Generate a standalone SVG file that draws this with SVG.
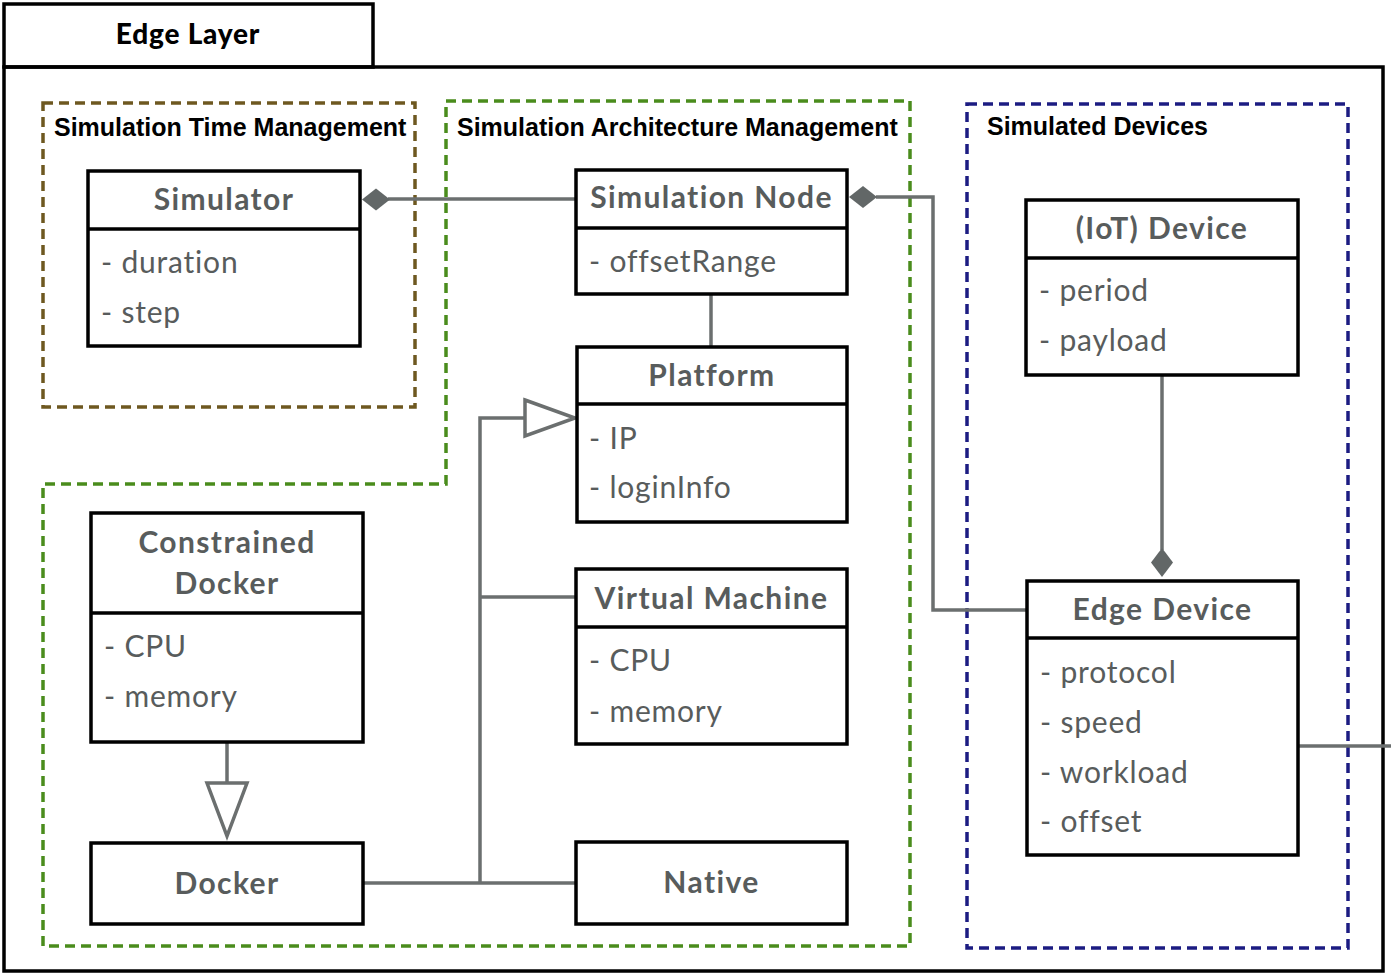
<svg xmlns="http://www.w3.org/2000/svg" width="1391" height="978" viewBox="0 0 1391 978">
<style>
.frame{fill:none;stroke:#000;stroke-width:3.5}
.box{fill:#fff;stroke:#000;stroke-width:3.5}
.div{stroke:#000;stroke-width:3.5}
.title{font-family:Lato,"Open Sans","Liberation Sans",sans-serif;font-weight:bold;font-size:30px;letter-spacing:1.4px;fill:#585c5c;text-anchor:middle}
.attr{font-family:Lato,"Open Sans","Liberation Sans",sans-serif;font-size:30px;letter-spacing:0.8px;fill:#585c5c}
.glabel{font-family:"Liberation Sans",Arial,sans-serif;font-weight:bold;font-size:25px;fill:#000}
.conn{fill:none;stroke:#6b6f6f;stroke-width:3.5}
.dia{fill:#626767;stroke:none}
.tri{fill:#fff;stroke:#6b6f6f;stroke-width:3.5}
</style>
<rect width="1391" height="978" fill="#fff"/>
<g id="edge-layer">
<rect class="frame" x="4" y="67" width="1379" height="904"/>
<rect class="frame" x="4" y="4" width="369" height="63"/>
<text x="188" y="44" font-family="Lato,'Liberation Sans',sans-serif" font-weight="900" font-size="28" letter-spacing="0.8" fill="#000" text-anchor="middle">Edge Layer</text>
</g>
<g id="group-time">
<rect x="43" y="103" width="372" height="304" fill="none" stroke="#6e5820" stroke-width="3.5" stroke-dasharray="10,6"/>
<text class="glabel" x="54" y="136">Simulation Time Management</text>
</g>
<g id="group-arch">
<path d="M446,101 L910,101 L910,946 L43,946 L43,484 L446,484 Z" fill="none" stroke="#4a8c1c" stroke-width="3.5" stroke-dasharray="10,6"/>
<text class="glabel" x="457" y="136">Simulation Architecture Management</text>
</g>
<g id="group-devices">
<rect x="967" y="104" width="381" height="844" fill="none" stroke="#1c1c82" stroke-width="3.5" stroke-dasharray="10,6"/>
<text class="glabel" x="987" y="135">Simulated Devices</text>
</g>
<g id="connectors">
<path class="conn" d="M576,199 L388,199"/>
<path class="dia" d="M362,199.5 L376,188.5 L390,199.5 L376,210.5 Z"/>
<path class="conn" d="M876,197 L933,197 L933,610 L1027,610"/>
<path class="dia" d="M849,197 L863,186 L877,197 L863,208 Z"/>
<path class="conn" d="M711,294 L711,347"/>
<path class="conn" d="M525,418 L480,418 L480,883"/>
<path class="conn" d="M480,597 L576,597"/>
<path class="conn" d="M363,883 L576,883"/>
<path class="tri" d="M525,400 L575,418 L525,436 Z"/>
<path class="conn" d="M227,742 L227,783"/>
<path class="tri" d="M207,783 L247,783 L227,836 Z"/>
<path class="conn" d="M1162,375 L1162,550"/>
<path class="dia" d="M1162,548 L1173,562.5 L1162,577 L1151,562.5 Z"/>
<path class="conn" d="M1298,746 L1391,746"/>
</g>
<g id="simulator">
<rect class="box" x="88" y="171" width="272" height="175"/>
<line class="div" x1="88" y1="229" x2="360" y2="229"/>
<text class="title" x="224" y="210">Simulator</text>
<text class="attr" x="101" y="273">- duration</text>
<text class="attr" x="101" y="323">- step</text>
</g>
<g id="simulation-node">
<rect class="box" x="576" y="170" width="271" height="124"/>
<line class="div" x1="576" y1="228" x2="847" y2="228"/>
<text class="title" x="711.5" y="208">Simulation Node</text>
<text class="attr" x="589" y="272">- offsetRange</text>
</g>
<g id="platform">
<rect class="box" x="577" y="347" width="270" height="175"/>
<line class="div" x1="577" y1="404" x2="847" y2="404"/>
<text class="title" x="712" y="386">Platform</text>
<text class="attr" x="589" y="449">- IP</text>
<text class="attr" x="589" y="498">- loginInfo</text>
</g>
<g id="virtual-machine">
<rect class="box" x="576" y="569" width="271" height="175"/>
<line class="div" x1="576" y1="627" x2="847" y2="627"/>
<text class="title" x="711.5" y="609">Virtual Machine</text>
<text class="attr" x="589" y="671">- CPU</text>
<text class="attr" x="589" y="722">- memory</text>
</g>
<g id="native">
<rect class="box" x="576" y="842" width="271" height="82"/>
<text class="title" x="711.5" y="893">Native</text>
</g>
<g id="constrained-docker">
<rect class="box" x="91" y="513" width="272" height="229"/>
<line class="div" x1="91" y1="613" x2="363" y2="613"/>
<text class="title" x="227" y="553">Constrained</text>
<text class="title" x="227" y="594">Docker</text>
<text class="attr" x="104" y="657">- CPU</text>
<text class="attr" x="104" y="707">- memory</text>
</g>
<g id="docker">
<rect class="box" x="91" y="843" width="272" height="81"/>
<text class="title" x="227" y="894">Docker</text>
</g>
<g id="iot-device">
<rect class="box" x="1026" y="200" width="272" height="175"/>
<line class="div" x1="1026" y1="258" x2="1298" y2="258"/>
<text class="title" x="1162" y="239">(IoT) Device</text>
<text class="attr" x="1039" y="301">- period</text>
<text class="attr" x="1039" y="351">- payload</text>
</g>
<g id="edge-device">
<rect class="box" x="1027" y="581" width="271" height="274"/>
<line class="div" x1="1027" y1="638" x2="1298" y2="638"/>
<text class="title" x="1162.5" y="620">Edge Device</text>
<text class="attr" x="1040" y="683">- protocol</text>
<text class="attr" x="1040" y="733">- speed</text>
<text class="attr" x="1040" y="783">- workload</text>
<text class="attr" x="1040" y="832">- offset</text>
</g>
</svg>
